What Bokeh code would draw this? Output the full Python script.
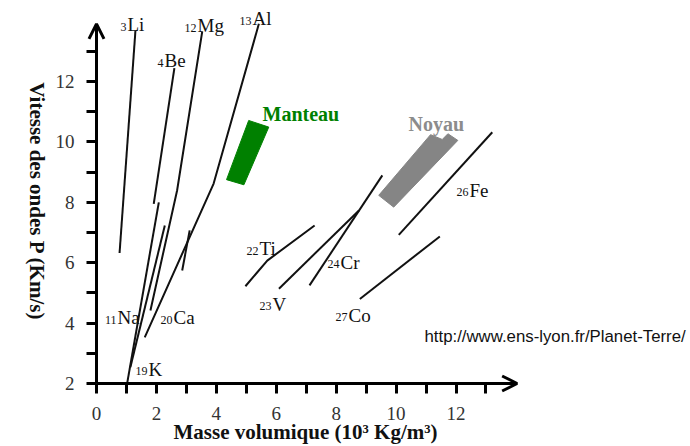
import math
from bokeh.plotting import figure
from bokeh.models import ColumnDataSource, FixedTicker, Arrow, OpenHead, Label, LinearAxis
from bokeh.core.properties import value
from bokeh.embed import file_html
from bokeh.resources import INLINE

# ---- Data: density (10^3 kg/m^3) vs P-wave velocity (km/s) ----
li_rho = [0.77, 1.30];               li_vp = [6.32, 13.69]
be_rho = [1.91, 2.60];               be_vp = [7.95, 12.44]
mg_rho = [1.80, 2.69, 3.53];         mg_vp = [4.42, 8.39, 13.66]
al_rho = [1.61, 3.91, 5.42];         al_vp = [3.53, 8.62, 13.91]
na_rho = [1.13, 2.28];               na_vp = [2.54, 7.23]
k_rho = [1.02, 2.08];                k_vp = [1.99, 8.00]
ca_rho = [2.86, 3.11];               ca_vp = [5.74, 7.07]
ti_rho = [4.97, 5.70, 7.28];         ti_vp = [5.22, 6.07, 7.23]
v_rho = [6.09, 8.76];                v_vp = [5.14, 7.73]
cr_rho = [7.11, 9.54];               cr_vp = [5.25, 8.89]
fe_rho = [10.09, 13.21];             fe_vp = [6.92, 10.32]
co_rho = [8.79, 11.46];              co_vp = [4.80, 6.87]

manteau_rho = [5.08, 5.75, 4.92, 4.34]
manteau_vp = [10.71, 10.49, 8.58, 8.75]
noyau_rho = [11.15, 11.54, 11.73, 12.06, 9.92, 9.42]
noyau_vp = [10.24, 10.08, 10.27, 10.05, 7.84, 8.23]

# element labels (symbol, atomic number, anchor in data units)
elements = ["Li", "Be", "Mg", "Al", "Na", "Ca", "K", "Ti", "V", "Cr", "Co", "Fe"]
numbers = ["3", "4", "12", "13", "11", "20", "19", "22", "23", "24", "27", "26"]
label_x = [1.035, 2.270, 3.371, 5.207, 0.701, 2.570, 1.736, 5.441, 5.875, 8.144, 8.411, 12.450]
label_y = [13.887, 12.695, 13.854, 14.086, 4.185, 4.185, 2.464, 6.470, 4.616, 6.007, 4.252, 8.391]

x_ticks = [0, 2, 4, 6, 8, 10, 12]
x_minor = [1, 3, 5, 7, 9, 11, 13]
y_ticks = [2, 4, 6, 8, 10, 12]
y_minor = [3, 5, 7, 9, 11, 13]

# ---- Figure (frame covers whole canvas; axes fixed at x=0 and y=2) ----
PX_X = 29.96   # pixels per density unit
PX_Y = 30.2    # pixels per velocity unit
W, H = 690, 446
X0_PX, Y2_PX = 96, 383
p = figure(width=W, height=H,
           x_range=(-X0_PX / PX_X, (W - X0_PX) / PX_X),
           y_range=(2 - (H - Y2_PX) / PX_Y, 2 + Y2_PX / PX_Y),
           x_axis_location=None, y_axis_location=None,
           output_backend="svg", toolbar_location=None,
           min_border=0)
p.grid.visible = False
p.outline_line_color = None
p.background_fill_color = "white"
p.border_fill_color = "white"

xaxis = LinearAxis(fixed_location=2)
yaxis = LinearAxis(fixed_location=0)
p.add_layout(xaxis, "below")
p.add_layout(yaxis, "left")

for ax, ticks, minor in ((xaxis, x_ticks, x_minor), (yaxis, y_ticks, y_minor)):
    ax.ticker = FixedTicker(ticks=ticks, minor_ticks=minor)
    ax.axis_line_color = None
    ax.major_tick_in = 0
    ax.major_tick_out = 10
    ax.minor_tick_in = 0
    ax.minor_tick_out = 10
    ax.major_tick_line_width = 3
    ax.minor_tick_line_width = 3
    ax.major_tick_line_color = "black"
    ax.minor_tick_line_color = "black"
    ax.major_label_text_font = "Liberation Serif"
    ax.major_label_text_font_size = "19px"
    ax.major_label_text_color = "#333333"
xaxis.major_label_standoff = 13
yaxis.major_label_standoff = 12

# axis lines with arrow heads
p.add_layout(Arrow(end=OpenHead(size=15, line_width=3, line_color="black"),
                   x_start=0, y_start=2, x_end=14.04, y_end=2,
                   line_width=3, line_color="black"))
p.add_layout(Arrow(end=OpenHead(size=15, line_width=3, line_color="black"),
                   x_start=0, y_start=2, x_end=0, y_end=13.91,
                   line_width=3, line_color="black"))

# regions
p.patch(manteau_rho, manteau_vp, fill_color="#008000", line_color="#008000", line_width=1)
p.patch(noyau_rho, noyau_vp, fill_color="#858585", line_color="#858585", line_width=1)

# element curves
lines = ColumnDataSource(dict(
    xs=[li_rho, be_rho, mg_rho, al_rho, na_rho, k_rho, ca_rho, ti_rho, v_rho, cr_rho, fe_rho, co_rho],
    ys=[li_vp, be_vp, mg_vp, al_vp, na_vp, k_vp, ca_vp, ti_vp, v_vp, cr_vp, fe_vp, co_vp],
))
p.multi_line("xs", "ys", source=lines, line_color="#111111", line_width=2)

labels = ColumnDataSource(dict(x=label_x, y=label_y, sym=elements, num=numbers))
p.text("x", "y", text="sym", source=labels, text_font=value("Liberation Serif"),
       text_font_size="19px", text_align="left", text_baseline="alphabetic", text_color="#111111")
p.text("x", "y", text="num", source=labels, text_font=value("Liberation Serif"),
       text_font_size="12px", text_align="right", text_baseline="alphabetic",
       text_color="#111111", x_offset=-1, y_offset=2)

p.text([5.541], [10.940], text=["Manteau"], text_font=value("Liberation Serif"),
       text_font_size="20px", text_font_style="bold", text_color="#008000",
       text_baseline="alphabetic")
p.text([10.414], [10.609], text=["Noyau"], text_font=value("Liberation Serif"),
       text_font_size="20px", text_font_style="bold", text_color="#8c8c8c",
       text_baseline="alphabetic")
p.text([10.948], [3.556], text=["http://www.ens-lyon.fr/Planet-Terre/"],
       text_font=value("Liberation Sans"), text_font_size="16.8px", text_color="#111111",
       text_baseline="alphabetic")

# axis titles
p.add_layout(Label(x=6.976, y=0.41, text="Masse volumique (10³ Kg/m³)", text_align="center",
                   text_baseline="alphabetic", text_font="Liberation Serif",
                   text_font_style="bold", text_font_size="21px", text_color="#111111"))
p.add_layout(Label(x=-2.0, y=8.03, text="Vitesse des ondes P (Km/s)", text_align="center",
                   text_baseline="alphabetic", text_font="Liberation Serif", angle=-math.pi / 2,
                   text_font_style="bold", text_font_size="21px", text_color="#111111"))

open("out.html", "w").write(file_html(p, INLINE))
